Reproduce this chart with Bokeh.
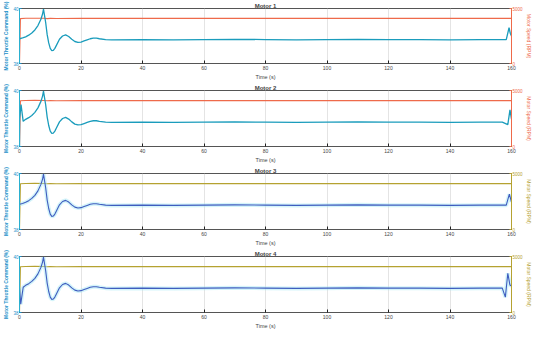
from bokeh.plotting import figure
from bokeh.layouts import column
from bokeh.models import Range1d, LinearAxis, FixedTicker
from bokeh.embed import file_html
from bokeh.resources import INLINE

# ---------------- data ----------------
x_ticks = [0, 20, 40, 60, 80, 100, 120, 140, 160]
thr_ticks = [38, 40]
rpm_ticks = [0, 5000]
titles = ["Motor 1", "Motor 2", "Motor 3", "Motor 4"]

# common response shape (time, %)
t_mid = [2, 3, 4, 5, 6, 7, 7.5, 7.8, 8.5, 9, 9.5, 10, 10.5, 11, 11.5, 12, 13, 14, 15, 16, 17,
         18, 19, 20, 21, 22, 23, 24, 25, 26, 28, 30, 40, 50, 60, 70, 80, 90, 100, 110, 120,
         130, 140, 150, 157]
v_mid = [38.97, 39.03, 39.11, 39.22, 39.38, 39.62, 39.80, 39.98, 39.50, 39.05, 38.75, 38.55,
         38.47, 38.48, 38.55, 38.66, 38.88, 39.00, 39.04, 38.98, 38.88, 38.80, 38.77, 38.78,
         38.82, 38.86, 38.90, 38.92, 38.92, 38.90, 38.87, 38.86, 38.87, 38.86, 38.87, 38.88,
         38.87, 38.86, 38.87, 38.88, 38.87, 38.87, 38.86, 38.87, 38.87]

thr1_t = [0, 1] + t_mid + [158.3, 159.2, 159.6, 160]
thr1_v = [38.90, 38.93] + v_mid + [38.87, 39.30, 39.10, 39.00]

thr2_t = [0, 0.05, 0.5, 1.2] + t_mid + [158.8, 159.5, 160]
thr2_v = [38.0, 39.0, 39.50, 38.90] + v_mid + [38.78, 39.31, 38.98]

thr3_t = [0, 1] + t_mid + [158.3, 159.3, 160]
thr3_v = [38.90, 38.93] + v_mid + [38.87, 39.26, 38.98]

thr4_t = [0, 0.4, 1.2] + t_mid + [158.0, 158.8, 159.5, 160]
thr4_v = [38.90, 38.30, 38.90] + v_mid + [38.55, 39.40, 38.98, 38.95]

rpm_t = [0, 0.3, 2, 5, 8, 9, 10, 12, 20, 60, 100, 140, 160]
rpm_v = [0, 4080, 4110, 4120, 4110, 4080, 4100, 4090, 4100, 4100, 4100, 4100, 4100]

thr_series = [(thr1_t, thr1_v), (thr2_t, thr2_v), (thr3_t, thr3_v), (thr4_t, thr4_v)]

# ---------------- styling ----------------
FONT = "Liberation Sans"
LEFT_COL = "#1a8fc8"
TEAL = "#1a9cbc"
BLUE = "#3f5cbf"
ORANGE = "#ee6a4a"
OLIVE = "#b5a231"
FRAME = "#555555"

heights = [82, 83, 83, 83]
figs = []
for i in range(4):
    p = figure(width=534, height=heights[i], x_range=Range1d(0, 160), y_range=Range1d(38, 40),
               output_backend="svg", toolbar_location=None,
               min_border_left=1, min_border_right=1, min_border_top=0, min_border_bottom=0)
    p.title.text = titles[i]
    p.title.align = "center"
    p.title.text_font = FONT
    p.title.text_font_size = "6px"
    p.title.text_font_style = "bold"
    p.title.standoff = 0
    p.title.offset = 0
    p.outline_line_color = FRAME
    p.outline_line_width = 1
    p.background_fill_color = "white"
    p.border_fill_color = "white"

    p.ygrid.visible = False
    p.xgrid.grid_line_color = "#dddddd"
    p.xgrid.grid_line_width = 0.8
    p.xgrid.ticker = FixedTicker(ticks=x_ticks)

    # x axis
    xa = p.xaxis[0]
    xa.ticker = FixedTicker(ticks=x_ticks)
    xa.axis_label = "Time (s)"
    xa.axis_label_text_font = FONT
    xa.axis_label_text_font_size = "5.5px"
    xa.axis_label_text_font_style = "normal"
    xa.axis_label_standoff = 1
    xa.major_label_text_font = FONT
    xa.major_label_text_font_size = "5px"
    xa.major_label_standoff = 2
    xa.major_tick_in = 3
    xa.major_tick_out = 0
    xa.minor_tick_line_color = None
    xa.axis_line_color = FRAME
    xa.major_tick_line_color = "#222222"

    # left axis
    ya = p.yaxis[0]
    ya.ticker = FixedTicker(ticks=thr_ticks)
    ya.axis_label = "Motor Throttle Command (%)"
    ya.axis_label_text_font = FONT
    ya.axis_label_text_font_size = "5px"
    ya.axis_label_text_font_style = "bold"
    ya.axis_label_text_color = LEFT_COL
    ya.axis_label_standoff = 1
    ya.major_label_text_font = FONT
    ya.major_label_text_font_size = "4.5px"
    ya.major_label_text_color = LEFT_COL
    ya.major_label_standoff = 1
    ya.major_tick_in = 2
    ya.major_tick_out = 0
    ya.minor_tick_line_color = None
    ya.axis_line_color = "#2ab0d0"
    ya.major_tick_line_color = LEFT_COL

    rcol = ORANGE if i < 2 else OLIVE
    p.extra_y_ranges = {"rpm": Range1d(0, 5000)}
    ra = LinearAxis(y_range_name="rpm", ticker=FixedTicker(ticks=rpm_ticks))
    ra.axis_label = "Motor Speed (RPM)"
    ra.axis_label_text_font = FONT
    ra.axis_label_text_font_size = "5px"
    ra.axis_label_text_font_style = "normal"
    ra.axis_label_text_color = rcol
    ra.axis_label_standoff = 0
    ra.major_label_text_font = FONT
    ra.major_label_text_font_size = "4.5px"
    ra.major_label_text_color = rcol
    ra.major_label_standoff = 1
    ra.major_tick_in = 2
    ra.major_tick_out = 0
    ra.minor_tick_line_color = None
    ra.axis_line_color = rcol
    ra.major_tick_line_color = rcol
    p.add_layout(ra, "right")

    tt, tv = thr_series[i]
    p.line(rpm_t, rpm_v, y_range_name="rpm", line_color=rcol, line_width=1.1)
    if i < 2:
        p.line(tt, tv, line_color=TEAL, line_width=1.3)
    else:
        p.line(tt, tv, line_color="#9fe6f5", line_width=4, line_alpha=0.45)
        p.line(tt, tv, line_color=BLUE, line_width=1.1)
    figs.append(p)

layout = column(*figs, spacing=0)
open("out.html", "w").write(file_html(layout, INLINE))
